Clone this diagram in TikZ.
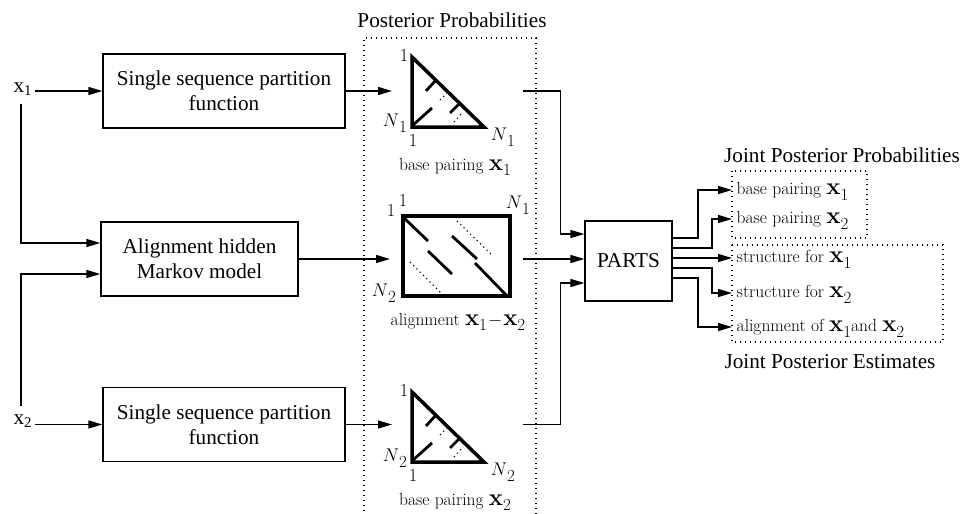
\documentclass[tikz,border=0pt]{standalone}
\usepackage{graphicx}
\usepackage[no-math]{fontspec}
\newfontfamily\timesf{Liberation Serif}
\usetikzlibrary{arrows.meta}

% lowered, nearly full-size index used in the plot labels
\newcommand\lsub[1]{\raisebox{-0.33em}{\fontsize{16}{18}\selectfont#1}}
% large bold sequence symbol
\newcommand\bx{\scalebox{1.3}{$\mathbf{x}$}}

% Triangular base-pairing dot plot: #1 = vertical offset, #2 = sequence index, #3 = name prefix
\newcommand\basepairplot[3]{%
  \begin{scope}[shift={(0,#1)}]
    \draw[heavy] (412,57) -- (412,127) -- (484,127) -- cycle;
    \draw[helix] (436,80) -- (426,91)
                 (413,125) -- (432,108)
                 (460,103) -- (450,113);
    \draw[faint] (440,100) -- (447,93)
                 (454,122) -- (463,112);
    \node[lab] (#3-top)   at (404,56)  {$1$};
    \node[lab] (#3-left)  at (395,123) {$N$\lsub{#2}};
    \node[lab] (#3-bot)   at (413,141) {$1$};
    \node[lab] (#3-right) at (503,137) {$N$\lsub{#2}};
    \node[capt] (#3-cap)  at (455,167) {base pairing \bx\lsub{#2}};
  \end{scope}}

\begin{document}
\begin{tikzpicture}[x=1pt,y=-1pt,line width=1.3pt,
  arr/.style={-{Triangle[length=14pt,width=8pt]}},
  tfont/.style={font=\timesf\fontsize{21.2}{25}\selectfont},
  block/.style={tfont,draw,align=center,inner sep=0pt,minimum height=74pt},
  ttl/.style={tfont,inner sep=0pt},
  lab/.style={font=\fontsize{17.28}{21}\selectfont,inner sep=0pt,scale=1.06,transform shape},
  capt/.style={lab,font=\fontsize{16.5}{19}\selectfont},
  outlab/.style={capt,anchor=west,inner xsep=3.8pt,inner ysep=0pt,text height=11.3pt,text depth=1.9pt},
  dotbox/.style={line width=1.4pt,dash pattern=on 1.4pt off 3.6pt},
  heavy/.style={line width=3.5pt,line join=miter},
  helix/.style={line width=2.8pt},
  faint/.style={line width=1.2pt,dash pattern=on 1.2pt off 3.4pt},
]
\useasboundingbox (0,0) rectangle (962,514);

% inputs
\node[ttl,anchor=base west] (x1) at (13,92) {x\textsubscript{1}};
\node[ttl,anchor=base west] (x2) at (13,424) {x\textsubscript{2}};

% processing blocks
\node[block,minimum width=242pt] (ssp1) at (224,91) {Single sequence partition\\function};
\node[block,minimum width=197pt] (ahmm) at (199.5,259) {Alignment hidden\\Markov model};
\node[block,minimum width=242pt] (ssp2) at (224,424.5) {Single sequence partition\\function};
\node[block,minimum width=87pt,minimum height=80pt] (parts) at (628.5,261) {PARTS};

% posterior probability panel
\node[ttl] (post) at (452,20) {Posterior Probabilities};
\draw[dotbox] (364,516) -- (364,38) -- (536,38) -- (536,516);

\basepairplot{0}{1}{bp1}
\basepairplot{335}{2}{bp2}

% alignment dot plot
\draw[heavy] (403,216) rectangle (510,296);
\draw[helix] (403,217) -- (428,241)
             (428,251) -- (452,274)
             (475,263) -- (508,297)
             (452,236) -- (477,259);
\draw[faint] (457,221) -- (492,255)
             (410,262) -- (445,297);
\node[lab] (al-top)   at (403,201) {$1$};
\node[lab] (al-left)  at (391,211) {$1$};
\node[lab] (al-right) at (518,205) {$N$\lsub{1}};
\node[lab] (al-bot)   at (384,293) {$N$\lsub{2}};
\node[capt] (al-cap)  at (458,322) {alignment \bx\lsub{1}\kern1pt$-$\kern1pt\bx\lsub{2}};

% panel ports
\coordinate (bp1-in)  at (392,91);
\coordinate (al-in)   at (390,259);
\coordinate (bp2-in)  at (392,424.5);
\coordinate (bp1-out) at (523,91);
\coordinate (al-out)  at (523,259);
\coordinate (bp2-out) at (523,424.5);

% input connectors
\draw[arr] ([xshift=2pt]x1.east |- ssp1.west) -- (ssp1.west);
\draw[arr] ([xshift=2pt]x2.east |- ssp2.west) -- (ssp2.west);
\draw[arr] ([shift={(-2pt,-8pt)}]x1.south) |- ([yshift=16pt]ahmm.west);
\draw[arr] ([shift={(-2pt,8pt)}]x2.north) |- ([yshift=-15pt]ahmm.west);

\draw[arr] (ssp1.east) -- (bp1-in);
\draw[arr] (ahmm.east) -- (al-in);
\draw[arr] (ssp2.east) -- (bp2-in);

% into PARTS
\draw[arr] (bp1-out) -| ([shift={(-24pt,27pt)}]parts.west) -- ([yshift=27pt]parts.west);
\draw[arr] (al-out) -- (parts.west |- al-out);
\draw[arr] (bp2-out) -| ([shift={(-24pt,-22pt)}]parts.west) -- ([yshift=-22pt]parts.west);

% joint outputs
\node[ttl] (jpp) at (842,155) {Joint Posterior Probabilities};
\node[ttl] (jpe) at (830,362) {Joint Posterior Estimates};
\draw[dotbox] (732,171) rectangle (867,238);
\draw[dotbox] (732,245) rectangle (943,342);

\node[outlab] (o1) at (732,190) {base pairing \bx\lsub{1}};
\node[outlab] (o2) at (732,219) {base pairing \bx\lsub{2}};
\node[outlab] (o3) at (732,258) {structure for \bx\lsub{1}};
\node[outlab] (o4) at (732,293) {structure for \bx\lsub{2}};
\node[outlab] (o5) at (732,327) {alignment of \bx\lsub{1}and \bx\lsub{2}};

\draw[arr] ([yshift=23pt]parts.east) -| ([xshift=-34pt]o1.west) -- (o1.west);
\draw[arr] ([yshift=13pt]parts.east) -| ([xshift=-20pt]o2.west) -- (o2.west);
\draw[arr] (parts.east |- o3.west) -- (o3.west);
\draw[arr] ([yshift=-7pt]parts.east) -| ([xshift=-20pt]o4.west) -- (o4.west);
\draw[arr] ([yshift=-17pt]parts.east) -| ([xshift=-34pt]o5.west) -- (o5.west);
\end{tikzpicture}
\end{document}
